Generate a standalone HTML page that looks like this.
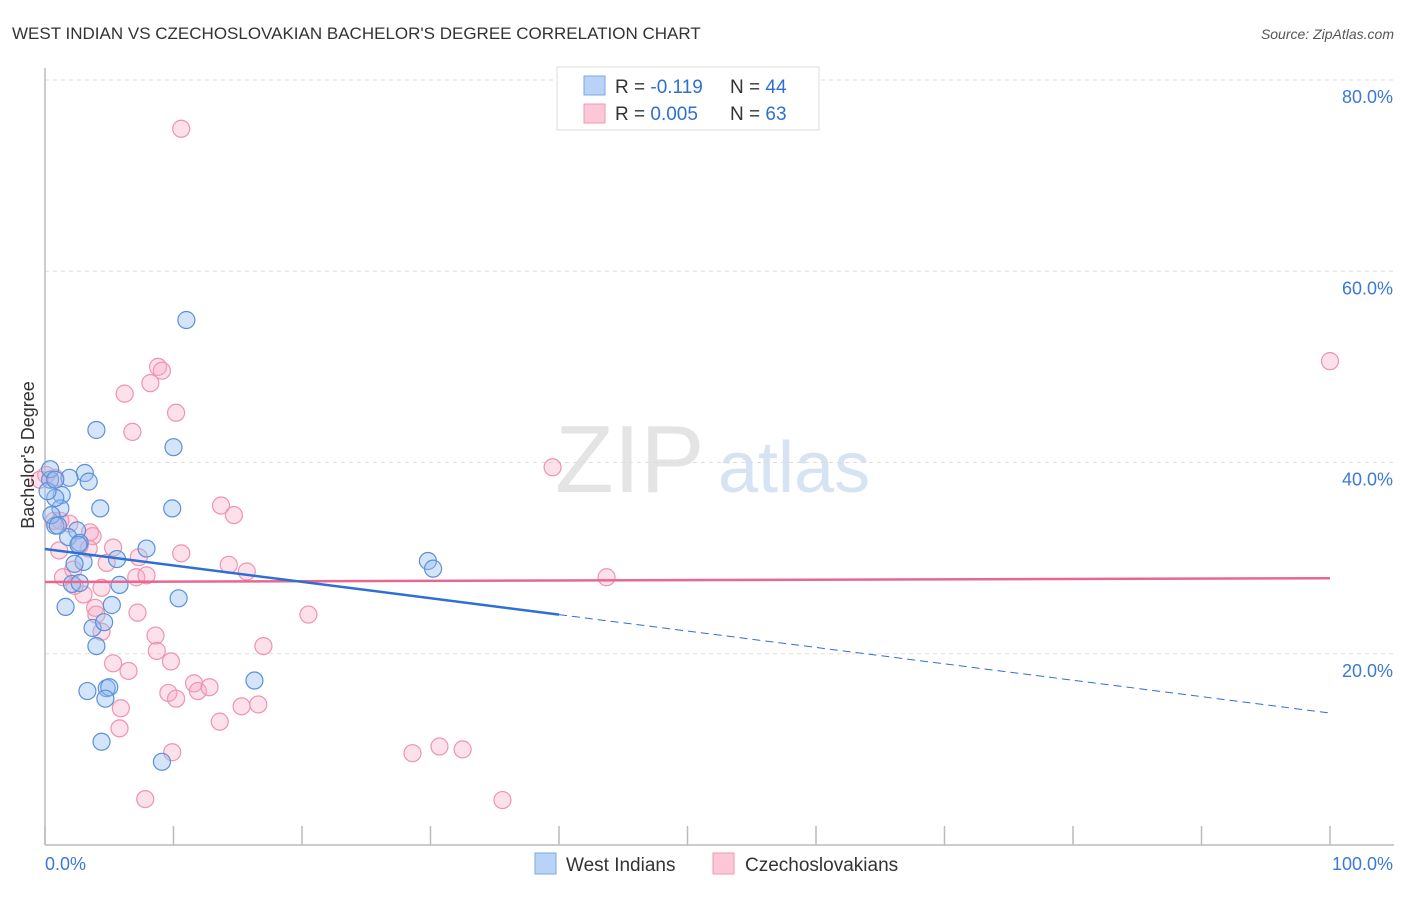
<!DOCTYPE html>
<html><head><meta charset="utf-8"><style>
body{margin:0;background:#fff;font-family:"Liberation Sans",sans-serif;}
svg text{font-family:"Liberation Sans",sans-serif;}
</style></head><body>
<svg id="chart" width="1406" height="892" xmlns="http://www.w3.org/2000/svg">
<text x="12" y="39" font-size="17" fill="#333">WEST INDIAN VS CZECHOSLOVAKIAN BACHELOR'S DEGREE CORRELATION CHART</text>
<text x="1394" y="39" font-size="14" fill="#555" font-style="italic" text-anchor="end">Source: ZipAtlas.com</text>
<text x="555" y="492" font-size="96" fill="#e4e4e4" font-family="Liberation Serif">ZIP</text>
<text x="718" y="492" font-size="72" fill="#d6e3f3">atlas</text>
<g id="grid"></g><g id="axes"></g><g id="marks"></g>
<text transform="translate(34,455) rotate(-90)" font-size="18" fill="#333" text-anchor="middle">Bachelor's Degree</text>
<g>
<rect x="557" y="67" width="262" height="63" fill="#fff" stroke="#ddd"/>
<rect x="584" y="76" width="21" height="19" fill="#b8d3f5" stroke="#7aa7e6"/>
<rect x="584" y="104" width="21" height="19" fill="#fcc7d6" stroke="#ee9ab3"/>
<text x="615" y="93" font-size="19" fill="#333">R = <tspan fill="#2f6fce">-0.119</tspan><tspan x="730">N = </tspan><tspan fill="#2f6fce">44</tspan></text>
<text x="615" y="120" font-size="19" fill="#333">R = <tspan fill="#2f6fce">0.005</tspan><tspan x="730">N = </tspan><tspan fill="#2f6fce">63</tspan></text>
</g>
<g>
<rect x="535" y="853" width="21" height="21" fill="#b8d3f5" stroke="#7aa7e6"/>
<text x="566" y="871" font-size="19" fill="#333">West Indians</text>
<rect x="713" y="853" width="21" height="21" fill="#fcc7d6" stroke="#ee9ab3"/>
<text x="745" y="871" font-size="19" fill="#333">Czechoslovakians</text>
</g>
</svg>
<script>
const yTicks=[20,40,60,80];
const yTickLabels=["20.0%","40.0%","60.0%","80.0%"];
const xTicks=[0,10,20,30,40,50,60,70,80,90,100];
const xTickLabels=["0.0%","100.0%"];
const blueX=[11.0,4.0,10.0,3.1,3.4,1.9,0.4,1.3,1.2,4.3,9.9,0.8,2.5,1.8,2.7,7.9,5.6,3.0,2.1,2.7,5.8,10.4,5.2,1.6,3.7,4.6,4.0,3.3,4.8,5.0,4.7,16.3,4.4,9.1,29.8,30.2,0.5,0.8,0.2,0.4,1.0,2.6,2.3,0.8];
const blueY=[54.9,43.4,41.6,38.9,38.0,38.4,38.2,36.6,35.2,35.2,35.2,33.4,32.9,32.2,31.6,31.0,29.9,29.6,27.3,27.4,27.2,25.8,25.1,24.9,22.7,23.3,20.8,16.1,16.4,16.5,15.3,17.2,10.8,8.7,29.7,28.9,34.5,36.3,37.0,39.3,33.4,31.4,29.4,38.2];
const pinkX=[10.6,100,8.8,9.1,8.2,6.2,10.2,6.8,39.5,0.1,-0.4,0.8,13.7,14.7,0.7,1.9,3.7,2.7,5.3,3.4,1.1,10.6,7.3,4.8,14.3,15.7,7.1,7.9,2.2,1.4,4.4,43.7,3.0,3.9,4.0,7.2,20.5,4.4,8.6,17.0,8.7,9.8,5.3,6.5,11.6,11.9,9.6,12.8,10.2,5.9,15.3,16.6,13.6,5.8,9.9,28.6,30.7,32.5,7.8,35.6,1.2,2.3,3.5];
const pinkY=[74.9,50.6,50.0,49.6,48.3,47.2,45.2,43.2,39.5,38.7,38.2,38.4,35.5,34.5,33.9,33.6,32.3,31.3,31.1,31.0,30.8,30.5,30.1,29.5,29.3,28.6,28.0,28.2,28.8,28.0,26.9,28.0,26.2,24.8,24.1,24.3,24.1,22.3,21.9,20.8,20.3,19.2,19.0,18.2,16.9,16.1,15.9,16.5,15.3,14.3,14.5,14.7,12.9,12.2,9.7,9.6,10.3,10.0,4.8,4.7,33.9,27.1,32.7];
const blueFit=[30.95,13.8];
const pinkFit=[27.5,27.9];
const blueSolidEnd=40;
const NS="http://www.w3.org/2000/svg";
const X=v=>45+v/100*1285;
const Y=v=>845-v*9.5625;
function mk(tag,attrs,parent){const e=document.createElementNS(NS,tag);for(const k in attrs)e.setAttribute(k,attrs[k]);parent.appendChild(e);return e;}
const grid=document.getElementById('grid'),axes=document.getElementById('axes'),marks=document.getElementById('marks');
yTicks.forEach((t,i)=>{
 const l=mk('line',{x1:45,x2:1394,y1:Y(t),y2:Y(t),stroke:'#ddd','stroke-dasharray':'4,4'},grid);
 
 
 const tx=mk('text',{x:1393,y:Y(t)+23,'font-size':18,fill:'#3b78d8','text-anchor':'end'},axes);
 tx.textContent=yTickLabels[i];
 
 
});
const ax=mk('line',{x1:45,x2:1394,y1:845,y2:845,stroke:'#bbb','stroke-width':1.5},axes);


const ay=mk('line',{x1:45,x2:45,y1:68,y2:845,stroke:'#bbb','stroke-width':1.5},axes);


xTicks.forEach(t=>{
 const l=mk('line',{x1:X(t),x2:X(t),y1:826,y2:845,stroke:'#bbb','stroke-width':1.5},axes);
 
 
});
[[0,'start',X(0)],[100,'end',1393]].forEach((a,i)=>{
 const tx=mk('text',{x:a[2],y:870,'font-size':18,fill:'#3b78d8','text-anchor':a[1]},axes);
 tx.textContent=xTickLabels[i];
 
 
});
pinkX.forEach((v,i)=>{
 const c=mk('circle',{cx:X(v),cy:Y(pinkY[i]),r:8.5,fill:'rgba(248,170,195,0.35)',stroke:'#ee93b0','stroke-width':1.2},marks);
 
 
});
blueX.forEach((v,i)=>{
 const c=mk('circle',{cx:X(v),cy:Y(blueY[i]),r:8.5,fill:'rgba(150,190,240,0.4)',stroke:'#5a90dc','stroke-width':1.2},marks);
 
 
});
const bf=x=>blueFit[0]+(blueFit[1]-blueFit[0])*x/100;
const pl=mk('line',{x1:X(0),y1:Y(pinkFit[0]),x2:X(100),y2:Y(pinkFit[1]),stroke:'#e8678f','stroke-width':2.5},marks);


const bl=mk('line',{x1:X(0),y1:Y(bf(0)),x2:X(blueSolidEnd),y2:Y(bf(blueSolidEnd)),stroke:'#2e6fd6','stroke-width':2.5},marks);


const bd=mk('line',{x1:X(blueSolidEnd),y1:Y(bf(blueSolidEnd)),x2:X(100),y2:Y(bf(100)),stroke:'#2e6fd6','stroke-width':1,'stroke-dasharray':'8,5'},marks);


</script>
</body></html>
